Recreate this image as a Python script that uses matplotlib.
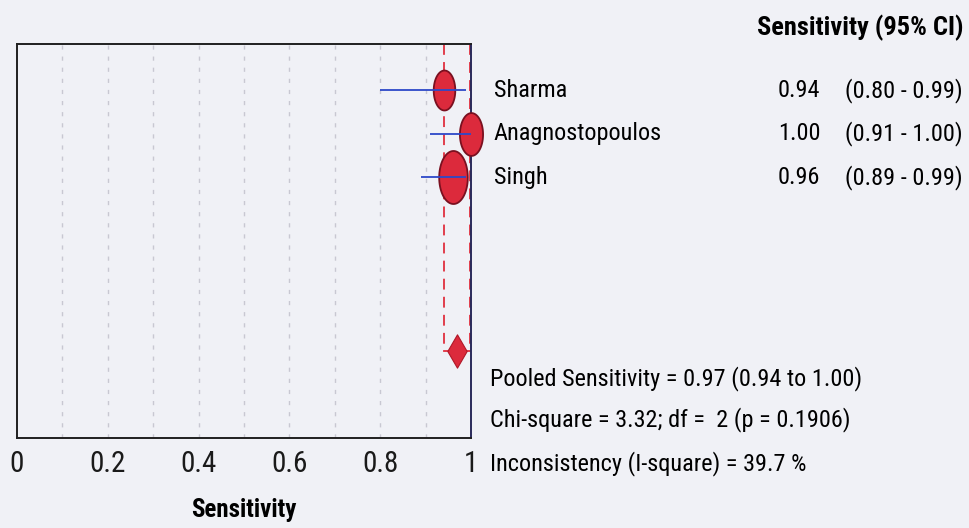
import numpy as np
import matplotlib
matplotlib.use("Agg")
import matplotlib.pyplot as plt
from matplotlib.path import Path
from matplotlib.transforms import blended_transform_factory

plt.rcParams['font.family'] = ['Roboto Condensed', 'DejaVu Sans']

# ---- data ----
studies = ["Sharma", "Anagnostopoulos", "Singh"]
sens = [0.94, 1.00, 0.96]
ci_low = [0.80, 0.91, 0.89]
ci_high = [0.99, 1.00, 0.99]
weights = [25.6, 29.4, 45.0]  # relative study weights (%)
pooled = 0.97
pooled_low = 0.94
pooled_high = 1.00
stats_lines = ["Pooled Sensitivity = 0.97 (0.94 to 1.00)",
               "Chi-square = 3.32; df =  2 (p = 0.1906)",
               "Inconsistency (I-square) = 39.7 %"]
xticks = [0, 0.2, 0.4, 0.6, 0.8, 1.0]
xtick_labels = ["0", "0.2", "0.4", "0.6", "0.8", "1"]

FS = 17.5
bg = "#f0f1f6"
fig = plt.figure(figsize=(9.7, 5.28), dpi=100, facecolor=bg)
ax = fig.add_axes([0.0175, 0.1705, 0.468, 0.746])
ax.set_facecolor(bg)

rows = np.arange(1, len(studies) + 1)
pooled_row = 7

ax.set_xlim(0, 1)
ax.set_ylim(9, -0.06)

# grid
for g in np.arange(0.1, 0.95, 0.1):
    ax.axvline(g, color="#c8c8d2", lw=1.0, ls=(0, (3, 5)), zorder=0)

# pooled bracket (red dashed)
red = "#e0303f"
ax.plot([pooled_low, pooled_low], [-0.06, pooled_row], color=red, lw=1.3, ls=(0, (6, 4)), zorder=1)
ax.plot([pooled_high - 0.003, pooled_high - 0.003], [-0.06, pooled_row], color=red, lw=1.3,
        ls=(0, (6, 4)), zorder=1)
ax.plot([pooled_low, pooled_high], [pooled_row, pooled_row], color=red, lw=1.3, zorder=1)

# ellipse marker
t = np.linspace(0, 2 * np.pi, 80)
ell = Path(np.column_stack([np.cos(t) * 0.54, np.sin(t)]), closed=True)
ms = [7.9 * np.sqrt(w) * 0.72 for w in weights]
for r, s, m in zip(rows, sens, ms):
    ax.plot([s], [r], marker=ell, ms=m, mfc="#dc2a3c", mec="#7a1020", mew=1.3,
            ls="none", zorder=3, clip_on=False)
# CI lines
ax.hlines(rows, ci_low, ci_high, color="#2c48c8", lw=1.3, zorder=4)

# pooled diamond
dia = Path([(0, 1), (0.58, 0), (0, -1), (-0.58, 0), (0, 1)], closed=True)
ax.plot([pooled], [pooled_row], marker=dia, ms=24, mfc="#dc2a3c", mec="#b01828",
        mew=0.8, ls="none", zorder=3, clip_on=False)

# axes styling
for sp in ["top", "left", "bottom"]:
    ax.spines[sp].set_color("#202020")
    ax.spines[sp].set_linewidth(1.4)
ax.spines["right"].set_color("#2a2a5a")
ax.spines["right"].set_linewidth(1.4)
ax.set_yticks([])
ax.set_xticks(xticks)
ax.set_xticklabels(xtick_labels, fontsize=21)
ax.tick_params(axis="x", length=0, pad=9, colors="#1a1a1a")
ax.set_xlabel("Sensitivity", fontsize=18, fontweight="bold", labelpad=14)

# right-hand text
tr = blended_transform_factory(fig.transFigure, ax.transData)
for r, name, s, lo, hi in zip(rows, studies, sens, ci_low, ci_high):
    ax.text(0.509, r, name, transform=tr, fontsize=FS, va="center", ha="left", clip_on=False)
    ax.text(0.802, r, f"{s:.2f}", transform=tr, fontsize=FS, va="center", ha="left", clip_on=False)
    ax.text(0.871, r, f"({lo:.2f} - {hi:.2f})", transform=tr, fontsize=FS, va="center", ha="left", clip_on=False)

fig.text(0.780, 0.947, "Sensitivity (95% CI)", fontsize=19, fontweight="bold", va="center", ha="left")

for y, line in zip([0.284, 0.206, 0.123], stats_lines):
    fig.text(0.505, y, line, fontsize=FS, va="center", ha="left")

fig.savefig("out.png", dpi=100, facecolor=bg)
